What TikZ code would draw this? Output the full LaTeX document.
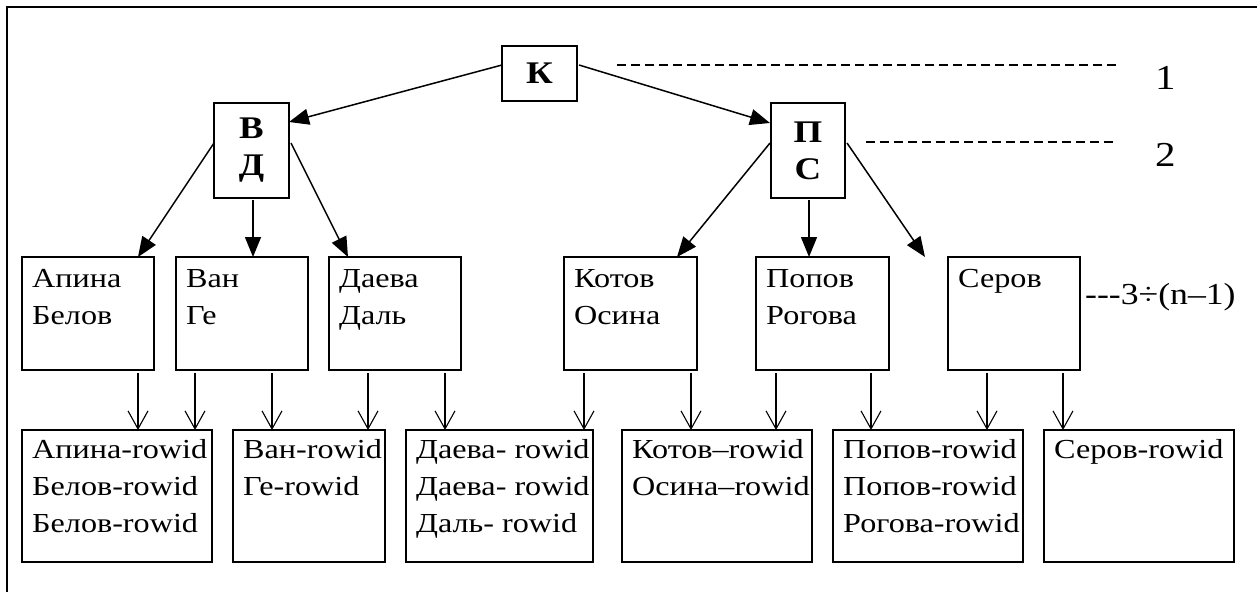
\documentclass[tikz,border=0pt]{standalone}
\usepackage{fontspec}
\setmainfont[FakeStretch=1.17]{Liberation Serif}
\usetikzlibrary{arrows.meta}

% left-aligned block of lines whose baseline is the first line
\newcommand\txtlines[1]{\begin{tabular}[t]{@{}l@{}}#1\end{tabular}}

\begin{document}
\begin{tikzpicture}[
  x=1pt, y=-1pt,
  box/.style={draw, line width=1.4pt, rectangle, inner sep=0pt, outer sep=0pt},
  keybox/.style={box, font=\fontsize{31.5}{37}\selectfont\bfseries, align=center},
  leafbox/.style={box, anchor=north west},
  leaftext/.style={anchor=base west, inner sep=0pt, font=\fontsize{27.5}{37}\selectfont},
  bigarrow/.style={line width=1.5pt, -{Triangle[length=20pt,width=16pt]}},
  thinarrow/.style={line width=1.1pt, shorten <=3pt,
    -{Straight Barb[length=18pt,width=20pt,line width=1.1pt]}},
  levelline/.style={line width=1.3pt, dash pattern=on 9pt off 5pt},
  levellabel/.style={anchor=base west, inner sep=0pt, font=\fontsize{35}{40}\selectfont},
]
\useasboundingbox (0,0) rectangle (1257,592);

% outer frame (top and left edges)
\draw[line width=2.2pt] (7,592) -- (7,7) -- (1257,7);

% root and second-level index blocks
\node[keybox, minimum width=75, minimum height=55] (K) at (539.5,73.5) {К};
\node[keybox, minimum width=75, minimum height=95] (VD) at (251.5,150.5) {В\\Д};
\node[keybox, minimum width=74, minimum height=95] (PS) at (808,150.5) {П\\С};

% leaf blocks
\node[leafbox, minimum width=132, minimum height=113] (a1) at (22,257) {};
\node[leafbox, minimum width=132, minimum height=113] (a2) at (176,257) {};
\node[leafbox, minimum width=132, minimum height=113] (a3) at (329,257) {};
\node[leafbox, minimum width=133, minimum height=113] (a4) at (564,257) {};
\node[leafbox, minimum width=133, minimum height=113] (a5) at (756,257) {};
\node[leafbox, minimum width=132, minimum height=113] (a6) at (948,257) {};

\node[leaftext] (ta1) at ([shift={(10,30)}]a1.north west) {\txtlines{Апина\\Белов}};
\node[leaftext] (ta2) at ([shift={(10,30)}]a2.north west) {\txtlines{Ван\\Ге}};
\node[leaftext] (ta3) at ([shift={(10,30)}]a3.north west) {\txtlines{Даева\\Даль}};
\node[leaftext] (ta4) at ([shift={(10,30)}]a4.north west) {\txtlines{Котов\\Осина}};
\node[leaftext] (ta5) at ([shift={(10,30)}]a5.north west) {\txtlines{Попов\\Рогова}};
\node[leaftext] (ta6) at ([shift={(10,30)}]a6.north west) {\txtlines{Серов}};

% data blocks with rowids
\node[leafbox, minimum width=190, minimum height=132] (b1) at (22,430) {};
\node[leafbox, minimum width=152, minimum height=132] (b2) at (233,430) {};
\node[leafbox, minimum width=187, minimum height=132] (b3) at (406,430) {};
\node[leafbox, minimum width=190, minimum height=132] (b4) at (622,430) {};
\node[leafbox, minimum width=190, minimum height=132] (b5) at (833,430) {};
\node[leafbox, minimum width=190, minimum height=132] (b6) at (1044,430) {};

\node[leaftext] (tb1) at ([shift={(10,28)}]b1.north west) {\txtlines{Апина-rowid\\Белов-rowid\\Белов-rowid}};
\node[leaftext] (tb2) at ([shift={(10,28)}]b2.north west) {\txtlines{Ван-rowid\\Ге-rowid}};
\node[leaftext] (tb3) at ([shift={(10,28)}]b3.north west) {\txtlines{Даева- rowid\\Даева- rowid\\Даль- rowid}};
\node[leaftext] (tb4) at ([shift={(10,28)}]b4.north west) {\txtlines{Котов–rowid\\Осина–rowid}};
\node[leaftext] (tb5) at ([shift={(10,28)}]b5.north west) {\txtlines{Попов-rowid\\Попов-rowid\\Рогова-rowid}};
\node[leaftext] (tb6) at ([shift={(10,28)}]b6.north west) {\txtlines{Серов-rowid}};

% tree links
\draw[bigarrow] ([shift={(0,-8.5)}]K.west) -- ([shift={(0,-28.5)}]VD.east);
\draw[bigarrow] ([shift={(2,-8.5)}]K.east) -- ([shift={(-1,-27.5)}]PS.west);

\draw[bigarrow] ([shift={(0,-7.5)}]VD.west) -- ([shift={(116,0)}]a1.north west);
\draw[bigarrow] ([shift={(1.5,2)}]VD.south) -- ([shift={(77,0)}]a2.north west);
\draw[bigarrow] ([shift={(2,-7.5)}]VD.east) -- ([shift={(19,0)}]a3.north west);

\coordinate (more) at (925,257);
\draw[bigarrow] ([shift={(-1,-7.5)}]PS.west) -- ([shift={(113,0)}]a4.north west);
\draw[bigarrow] ([shift={(1,2)}]PS.south) -- ([shift={(53,0)}]a5.north west);
\draw[bigarrow] ([shift={(2,-7.5)}]PS.east) -- (more);

% leaf -> data links
\foreach \s/\ds/\t/\dt in {a1/116/b1/116, a2/19/b1/173, a2/96/b2/39, a3/39/b2/135,
                           a3/116/b3/39, a4/20/b3/178, a4/127/b4/69, a5/20/b4/154,
                           a5/115/b5/38, a6/39/b5/154, a6/115/b6/19}
  \draw[thinarrow] ([shift={(\ds,0)}]\s.south west) -- ([shift={(\dt,0)}]\t.north west);

% level markers
\coordinate (l1a) at (617,65);  \coordinate (l1b) at (1117,65);
\coordinate (l2a) at (866,142); \coordinate (l2b) at (1117,142);
\draw[levelline] (l1a) -- (l1b);
\draw[levelline] (l2a) -- (l2b);
\node[levellabel] (lev1) at (1155,89) {1};
\node[levellabel] (lev2) at (1155,166) {2};
\node[leaftext, font=\fontsize{30.5}{37}\selectfont] (lev3) at ([shift={(5,47)}]a6.north east) {-{}-{}-3÷(n–1)};
\end{tikzpicture}
\end{document}
